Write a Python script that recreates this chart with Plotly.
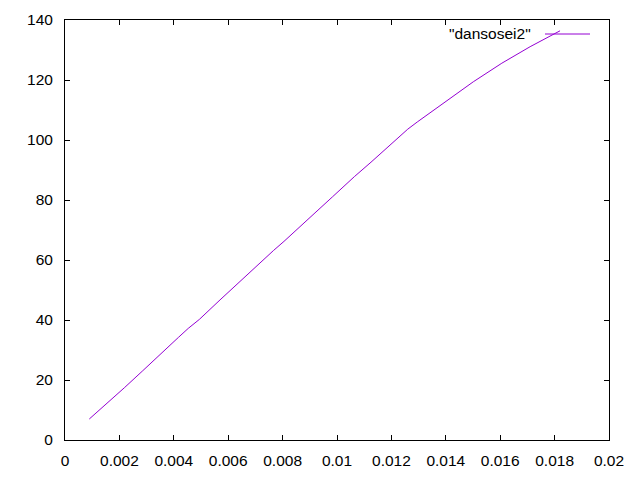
import plotly.graph_objects as go

x_vals = [0.000893, 0.00135, 0.00165, 0.00218, 0.00286, 0.00331, 0.00371, 0.00417,
          0.00453, 0.00494, 0.00570, 0.00635, 0.00678, 0.00722, 0.00767, 0.00805,
          0.00864, 0.00919, 0.00984, 0.01027, 0.01064, 0.01125, 0.01203, 0.01260,
          0.01295, 0.01336, 0.01376, 0.01501, 0.01606, 0.01710, 0.01820]
y_vals = [7.0, 10.67, 13.0, 17.4, 23.1, 27.0, 30.4, 34.2,
          37.2, 40.2, 46.7, 52.2, 55.9, 59.6, 63.2, 66.2,
          71.0, 75.7, 81.1, 84.8, 87.8, 92.6, 99.1, 103.6,
          106.0, 108.7, 111.4, 119.4, 125.6, 131.1, 136.4]

x_tickvals = [0, 0.002, 0.004, 0.006, 0.008, 0.01, 0.012, 0.014, 0.016, 0.018, 0.02]
x_ticktext = ["0", "0.002", "0.004", "0.006", "0.008", "0.01", "0.012", "0.014", "0.016", "0.018", "0.02"]
y_tickvals = [0, 20, 40, 60, 80, 100, 120, 140]
series_name = '"dansosei2"'

color = "#9400D3"

fig = go.Figure()
fig.add_trace(go.Scatter(x=x_vals, y=y_vals, mode="lines", name=series_name,
                         line=dict(color=color, width=1), showlegend=False))

font = dict(family="Liberation Sans, Arial, sans-serif", size=15.5, color="black")

# the page body has an 8px default margin, compensate for it
fig.update_layout(
    width=640, height=480,
    margin=dict(l=57, r=39, t=12, b=48),
    paper_bgcolor="white", plot_bgcolor="white",
    font=font,
    xaxis=dict(range=[0, 0.02], tickvals=x_tickvals, ticktext=x_ticktext,
               showgrid=False, zeroline=False, showline=True, linecolor="black",
               linewidth=1, mirror="allticks", ticks="inside", ticklen=5,
               tickcolor="black", ticklabelstandoff=6, automargin=False),
    yaxis=dict(range=[0, 140], tickvals=y_tickvals,
               showgrid=False, zeroline=False, showline=True, linecolor="black",
               linewidth=1, mirror="allticks", ticks="inside", ticklen=5,
               tickcolor="black", ticklabelstandoff=8, automargin=False),
)

# gnuplot-style key: text on the left, sample line on the right
fig.add_annotation(xref="paper", yref="paper", x=(533 - 65) / 544, y=(440 - 34) / 420,
                   text=series_name, showarrow=False, xanchor="right", yanchor="middle",
                   font=font)
fig.add_shape(type="line", xref="paper", yref="paper",
              x0=(545 - 65) / 544, x1=(590 - 65) / 544,
              y0=(440 - 34) / 420, y1=(440 - 34) / 420,
              line=dict(color=color, width=1))

fig.write_html("out.html")
